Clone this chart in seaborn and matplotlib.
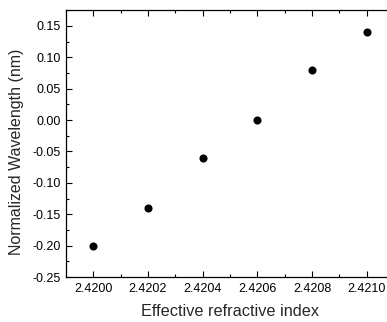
import matplotlib
matplotlib.use("Agg")
import matplotlib.pyplot as plt
import seaborn as sns
import pandas as pd
from matplotlib.ticker import MultipleLocator, FormatStrFormatter

n_eff = [2.4200, 2.4202, 2.4204, 2.4206, 2.4208, 2.4210]
norm_wl = [-0.20, -0.14, -0.06, 0.00, 0.08, 0.14]

sns.set_theme(style="ticks")
plt.rcParams['font.family'] = ['Liberation Sans', 'DejaVu Sans']

df = pd.DataFrame({"x": n_eff, "y": norm_wl})
fig = plt.figure(figsize=(3.87, 3.22), dpi=100)
ax = fig.add_axes([66/387, 1-277/322, (394-66)/387, (277-10.3)/322])
sns.scatterplot(data=df, x="x", y="y", ax=ax, color="black", s=34, edgecolor="black", linewidth=0)

ax.set_xlim(2.4199, 2.4211)
ax.set_ylim(-0.25, 0.175)
ax.xaxis.set_major_locator(MultipleLocator(0.0002))
ax.xaxis.set_minor_locator(MultipleLocator(0.0001))
ax.yaxis.set_major_locator(MultipleLocator(0.05))
ax.yaxis.set_minor_locator(MultipleLocator(0.025))
ax.xaxis.set_major_formatter(FormatStrFormatter('%.4f'))
ax.yaxis.set_major_formatter(FormatStrFormatter('%.2f'))
ax.tick_params(which='both', direction='in', top=True, right=False, labelsize=9, width=0.8, colors='black')
ax.tick_params(which='major', length=4, pad=4)
ax.tick_params(which='minor', length=2)
for s in ax.spines.values():
    s.set_linewidth(0.9)
    s.set_color('black')
ax.spines['right'].set_visible(False)
ax.set_xlabel("Effective refractive index", fontsize=11.7, labelpad=7)
ax.set_ylabel("Normalized Wavelength (nm)", fontsize=11.5, labelpad=4)
ax.yaxis.set_label_coords(-0.128, 0.47)
fig.savefig("out.png", dpi=100)
